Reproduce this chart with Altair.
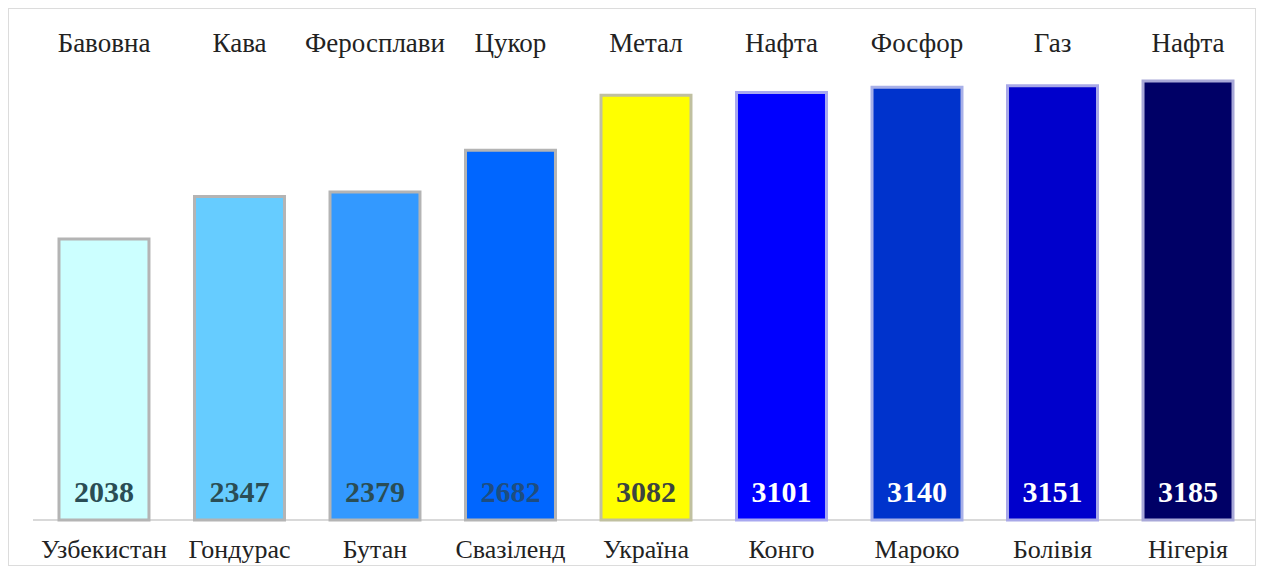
import altair as alt
import pandas as pd

countries = ["Узбекистан", "Гондурас", "Бутан", "Свазіленд", "Україна", "Конго", "Мароко", "Болівія", "Нігерія"]
commodities = ["Бавовна", "Кава", "Феросплави", "Цукор", "Метал", "Нафта", "Фосфор", "Газ", "Нафта"]
values = [2038, 2347, 2379, 2682, 3082, 3101, 3140, 3151, 3185]
fills = ["#ccffff", "#66ccff", "#3399ff", "#0066ff", "#ffff00", "#0000ff", "#0033cc", "#0000cc", "#000066"]
strokes = ["#b4b4b4", "#b4b4b4", "#b4b4b4", "#b4b4b4", "#c0c0a0", "#a8a8f0", "#a8b0e8", "#a8a8e8", "#a8a8d8"]
label_colors = ["#2a4d55", "#2a4d55", "#2a4d55", "#1e4d80", "#3c4440", "#ffffff", "#ffffff", "#ffffff", "#ffffff"]

df = pd.DataFrame({
    "country": countries,
    "commodity": commodities,
    "value": values,
    "fill": fills,
    "stroke": strokes,
    "lc": label_colors,
})

W, H = 1248, 558
xs = alt.Scale(domain=countries, range=[51, 1225], paddingInner=0.336, paddingOuter=0)
ys = alt.Scale(domain=[0, 3700], range=[512, 2])
X = alt.X("country:N", scale=xs, axis=None, sort=countries)

base = alt.Chart(df)

bars = base.mark_bar(strokeWidth=3).encode(
    x=X,
    y=alt.Y("value:Q", scale=ys, axis=None),
    y2=alt.datum(0),
    fill=alt.Fill("fill:N", scale=None),
    stroke=alt.Stroke("stroke:N", scale=None),
)

rule = base.mark_rule(color="#d9d9d9", strokeWidth=2).encode(
    x=alt.value(25), x2=alt.value(1250), y=alt.value(512)
)

vals = base.mark_text(font="Liberation Serif", fontWeight="bold", fontSize=30,
                      baseline="alphabetic", align="center").encode(
    x=X,
    y=alt.value(494),
    text=alt.Text("value:Q", format="d"),
    color=alt.Color("lc:N", scale=None),
)

tops = base.mark_text(font="Liberation Serif", fontSize=27, color="#222222",
                      baseline="alphabetic", align="center").encode(
    x=X, y=alt.value(44), text="commodity:N"
)

bottoms = base.mark_text(font="Liberation Serif", fontSize=26, color="#222222",
                         baseline="alphabetic", align="center").encode(
    x=X, y=alt.value(550), text="country:N"
)

chart = alt.layer(rule, bars, vals, tops, bottoms).properties(
    width=W, height=H, padding=0,
    autosize=alt.AutoSizeParams(type="none"),
    background="#ffffff",
).configure_view(stroke="#dcdcdc", strokeWidth=2)

chart.save("out.html", embed_options={"renderer": "svg", "actions": False})
